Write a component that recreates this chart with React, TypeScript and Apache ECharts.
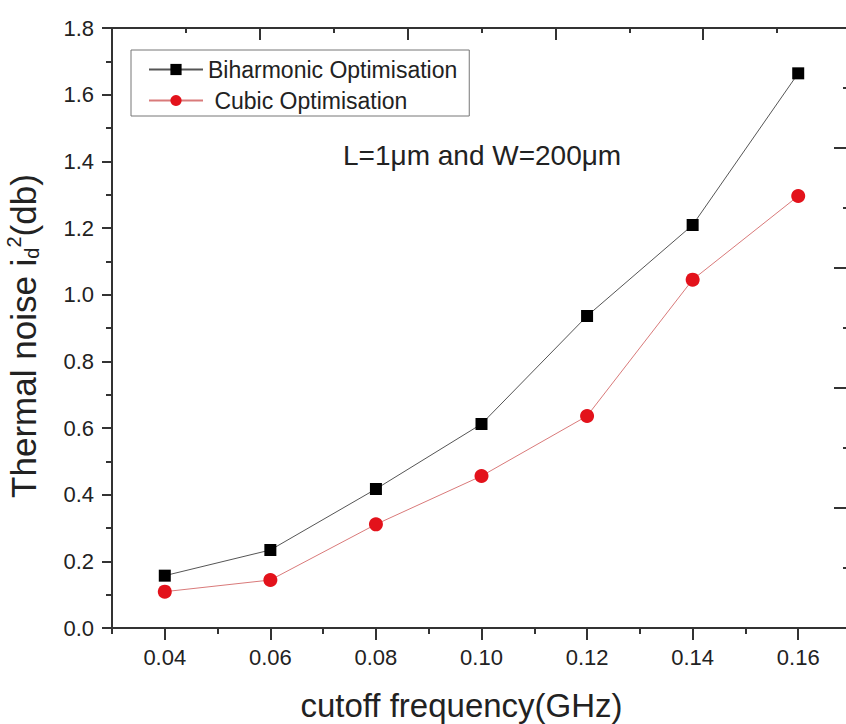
import React, { useEffect, useRef } from "react";
import * as echarts from "echarts";

const xValues = [0.04, 0.06, 0.08, 0.1, 0.12, 0.14, 0.16];
const biharmonic = [0.157, 0.234, 0.417, 0.612, 0.936, 1.209, 1.664];
const cubic = [0.109, 0.144, 0.311, 0.456, 0.636, 1.045, 1.296];
const xTickLabels = [0.04, 0.06, 0.08, 0.1, 0.12, 0.14, 0.16];
const xMinorTicks = [0.03, 0.05, 0.07, 0.09, 0.11, 0.13, 0.15, 0.17];
const frameMajorTicks = [0, 2, 4, 6, 8, 10];
const frameMinorTicks = [1, 3, 5, 7, 9];
const seriesNames = ["Biharmonic Optimisation", "Cubic Optimisation"];

const FONT = '"Liberation Sans", Arial, sans-serif';
const AXIS = "#333";
const TEXT = "#222";

export default function App() {
  const ref = useRef<HTMLDivElement>(null);
  useEffect(() => {
    document.body.style.margin = "0";
    const chart = echarts.init(ref.current!, null, { renderer: "svg" });
    const axisLine = { show: true, onZero: false, lineStyle: { color: AXIS, width: 2 } };
    const tickStyle = { color: AXIS, width: 2 };
    const gridRect = { left: 112, top: 28, width: 739, height: 600, containLabel: false, outerBoundsMode: "none" };
    const topStrip = { left: 112, top: 27, width: 739, height: 1, containLabel: false, outerBoundsMode: "none" };
    const tickOnlyX = (gridIndex: number, min: number, max: number, values: number[], length: number) => ({
      type: "value",
      gridIndex,
      position: "bottom",
      min,
      max,
      axisLine: { show: true, onZero: false, lineStyle: { color: AXIS, width: 2 } },
      axisTick: { show: true, length, customValues: values, lineStyle: tickStyle },
      axisLabel: { show: false, customValues: values },
      splitLine: { show: false },
    });
    const hiddenY = (gridIndex: number) => ({ type: "value", gridIndex, min: 0, max: 1, show: false });
    chart.setOption({
      animation: false,
      backgroundColor: "#fff",
      textStyle: { fontFamily: FONT },
      grid: [gridRect, { ...gridRect }, topStrip, { ...topStrip }],
      legend: {
        orient: "vertical",
        left: 131,
        top: 50,
        padding: [8, 12, 4, 17],
        itemGap: 8,
        itemWidth: 54,
        itemHeight: 14,
        backgroundColor: "#fff",
        borderColor: "#777",
        borderWidth: 1,
        textStyle: { fontSize: 23, color: TEXT, fontFamily: FONT },
        formatter: (n: string) => (n === seriesNames[1] ? " " + n : n),
        data: seriesNames,
      },
      xAxis: [
        {
          type: "value",
          gridIndex: 0,
          position: "bottom",
          min: 0.03,
          max: 0.17,
          axisLine,
          axisTick: { show: true, length: 12, customValues: xTickLabels, lineStyle: tickStyle },
          axisLabel: {
            customValues: xTickLabels,
            formatter: (v: number) => v.toFixed(2),
            fontSize: 22,
            color: TEXT,
            margin: 18,
            fontFamily: FONT,
          },
          splitLine: { show: false },
          name: "cutoff frequency(GHz)",
          nameLocation: "middle",
          nameGap: 61,
          nameTextStyle: { fontSize: 33, color: TEXT, fontFamily: FONT, padding: [0, 40, 0, 0] },
        },
        tickOnlyX(1, 0.03, 0.17, xMinorTicks, 6),
        tickOnlyX(2, 0, 10, frameMajorTicks, 12),
        tickOnlyX(3, 0, 10, frameMinorTicks, 5),
      ],
      yAxis: [
        {
          type: "value",
          gridIndex: 0,
          position: "left",
          min: 0,
          max: 1.8,
          interval: 0.2,
          axisLine,
          axisTick: { show: true, length: 10, lineStyle: tickStyle },
          minorTick: { show: true, splitNumber: 2, length: 6, lineStyle: tickStyle },
          axisLabel: {
            formatter: (v: number) => v.toFixed(1),
            fontSize: 22,
            color: TEXT,
            margin: 18,
            fontFamily: FONT,
          },
          splitLine: { show: false },
          name: "Thermal noise i{sub|d}{sup|2}(db)",
          nameLocation: "middle",
          nameRotate: 90,
          nameGap: 70,
          nameTextStyle: {
            fontSize: 35,
            lineHeight: 38,
            color: TEXT,
            fontFamily: FONT,
            padding: [0, 16, 0, 0],
            rich: {
              sub: { fontSize: 20, lineHeight: 19, verticalAlign: "bottom", color: TEXT, fontFamily: FONT },
              sup: { fontSize: 20, lineHeight: 19, verticalAlign: "top", color: TEXT, fontFamily: FONT },
            },
          },
        },
        {
          type: "value",
          gridIndex: 0,
          position: "right",
          min: 0,
          max: 10,
          interval: 2,
          axisLine,
          axisTick: { show: true, inside: true, length: 17, lineStyle: tickStyle },
          minorTick: { show: true, splitNumber: 2, length: 8, lineStyle: tickStyle },
          axisLabel: { show: false },
          splitLine: { show: false },
        },
        hiddenY(1),
        hiddenY(2),
        hiddenY(3),
      ],
      graphic: [
        {
          type: "text",
          left: 343,
          top: 141,
          style: { text: "L=1μm and W=200μm", font: `28px ${FONT}`, fill: TEXT },
        },
      ],
      series: [
        {
          name: seriesNames[0],
          type: "line",
          xAxisIndex: 0,
          yAxisIndex: 0,
          data: xValues.map((x, i) => [x, biharmonic[i]]),
          symbol: "rect",
          symbolSize: 12,
          itemStyle: { color: "#000" },
          lineStyle: { color: "#555", width: 1 },
        },
        {
          name: seriesNames[1],
          type: "line",
          xAxisIndex: 0,
          yAxisIndex: 0,
          data: xValues.map((x, i) => [x, cubic[i]]),
          symbol: "circle",
          symbolSize: 14,
          itemStyle: { color: "#e3121b" },
          lineStyle: { color: "#d97a7a", width: 1 },
        },
      ],
    });
    return () => chart.dispose();
  }, []);
  return <div ref={ref} style={{ width: 846, height: 724 }} />;
}
